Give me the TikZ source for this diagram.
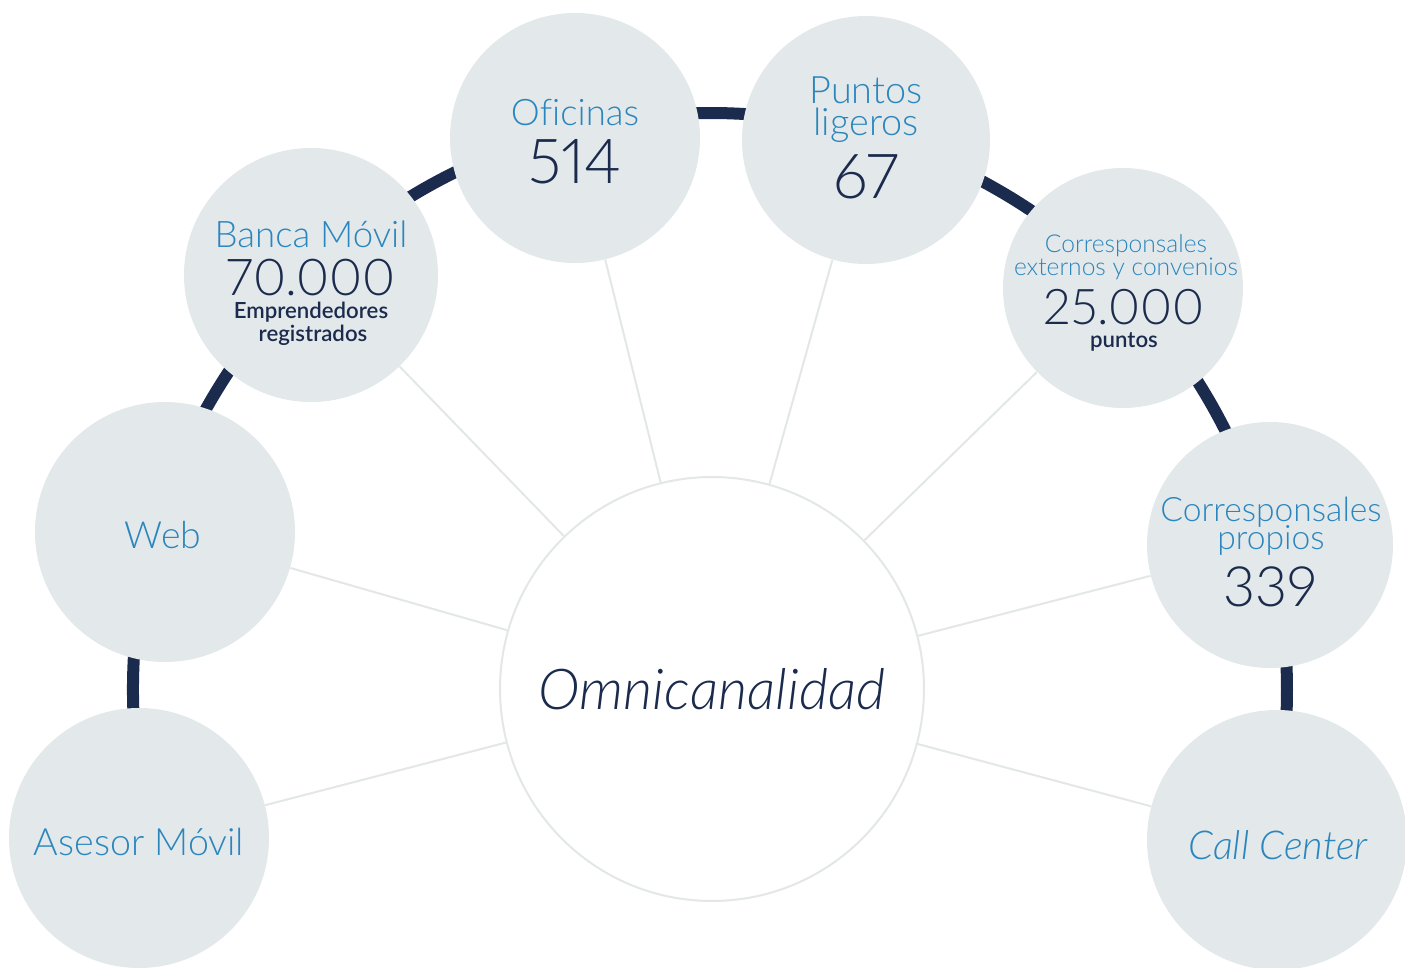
\documentclass[tikz,border=0pt]{standalone}
\usepackage{fontspec}
\IfFontExistsTF{Lato Light}{\setmainfont{Lato Light}[Ligatures=CommonOff,Numbers=Proportional]}{\setmainfont{Lato}}
\IfFontExistsTF{Lato Semibold}{\newfontfamily\negrita{Lato Semibold}}{\newfontfamily\negrita{Lato}[UprightFont=*-Bold]}
\usepackage{tikz}
\definecolor{azul}{HTML}{2A86BD}
\definecolor{marino}{HTML}{1B2B4D}
\definecolor{bola}{HTML}{E3E8EA}
\definecolor{raya}{HTML}{E3E7E7}
\tikzstyle{canal} = [circle, fill=bola, inner sep=0pt]
\tikzstyle{enlace} = [draw=raya, line width=1pt]
\tikzstyle{titulo} = [text=azul, anchor=base, inner sep=0pt]
\tikzstyle{cifra} = [text=marino, anchor=base, inner sep=0pt]
\tikzstyle{nota} = [text=marino, anchor=base, inner sep=0pt, font=\negrita\fontsize{11.1}{11}\selectfont]
\newcommand{\tam}[1]{\fontsize{#1}{#1}\selectfont}

\begin{document}
\begin{tikzpicture}[x=0.5pt,y=-0.5pt]
	\useasboundingbox (0,0) rectangle (1405,968);
	\draw[marino, line width=6pt] (710,690) ++(175:577) arc[start angle=175, end angle=365, radius=577];
	\node[canal, minimum size=125pt] (ofi) at (575,138) {};
	\node[canal, minimum size=124pt] (pun) at (866,140) {};
	\node[canal, minimum size=127pt] (ban) at (311,275) {};
	\node[canal, minimum size=120pt] (cex) at (1123,288) {};
	\node[canal, minimum size=130pt] (web) at (165,532) {};
	\node[canal, minimum size=123pt] (cpr) at (1270,545) {};
	\node[canal, minimum size=130pt] (ase) at (139,838) {};
	\node[canal, minimum size=130pt] (cal) at (1277,840) {};
	\node[circle, fill=white, draw=raya, line width=1pt, inner sep=0pt, minimum size=212pt] (omni) at (712,689) {};
	\foreach \c in {ban,ofi,pun,cex,web,cpr,ase,cal}
		\draw[enlace] (omni) -- (\c);
	\node[titulo, font=\tam{18.3}] (ofiT) at (575,126) {Oficinas};
	\node[cifra, font=\tam{31}] (ofiN) at (575,184) {514};
	\node[titulo, font=\tam{18.9}] (punT) at (866,104) {Puntos};
	\node[titulo, font=\tam{18.9}] (punU) at (866,136) {ligeros};
	\node[cifra, font=\tam{31}] (punN) at (866,199) {67};
	\node[titulo, font=\tam{18.3}] (banT) at (311,248) {Banca Móvil};
	\node[cifra, font=\tam{25.4}] (banN) at (311,296) {70.000};
	\node[nota] (banA) at (311,319) {Emprendedores};
	\node[nota] (banB) at (313,342) {registrados};
	\node[titulo, font=\tam{12.3}] (cexT) at (1126,253) {Corresponsales};
	\node[titulo, font=\tam{12.3}] (cexU) at (1126,276) {externos y convenios};
	\node[cifra, font=\tam{24.6}] (cexN) at (1124,325) {25.000};
	\node[nota] (cexA) at (1124,348) {puntos};
	\node[titulo, font=\tam{18.7}] (webT) at (163,549) {Web};
	\node[titulo, font=\tam{16.8}] (cprT) at (1271,522) {Corresponsales};
	\node[titulo, font=\tam{16.8}] (cprU) at (1271,550) {propios};
	\node[cifra, font=\tam{27.8}] (cprN) at (1270,606) {339};
	\node[cifra, font=\itshape\tam{28.2}] (omniT) at (712,710) {Omnicanalidad};
	\node[titulo, font=\tam{18.8}] (aseT) at (139,855) {Asesor Móvil};
	\node[titulo, font=\itshape\tam{19.9}] (calT) at (1278,859) {Call Center};
\end{tikzpicture}
\end{document}
